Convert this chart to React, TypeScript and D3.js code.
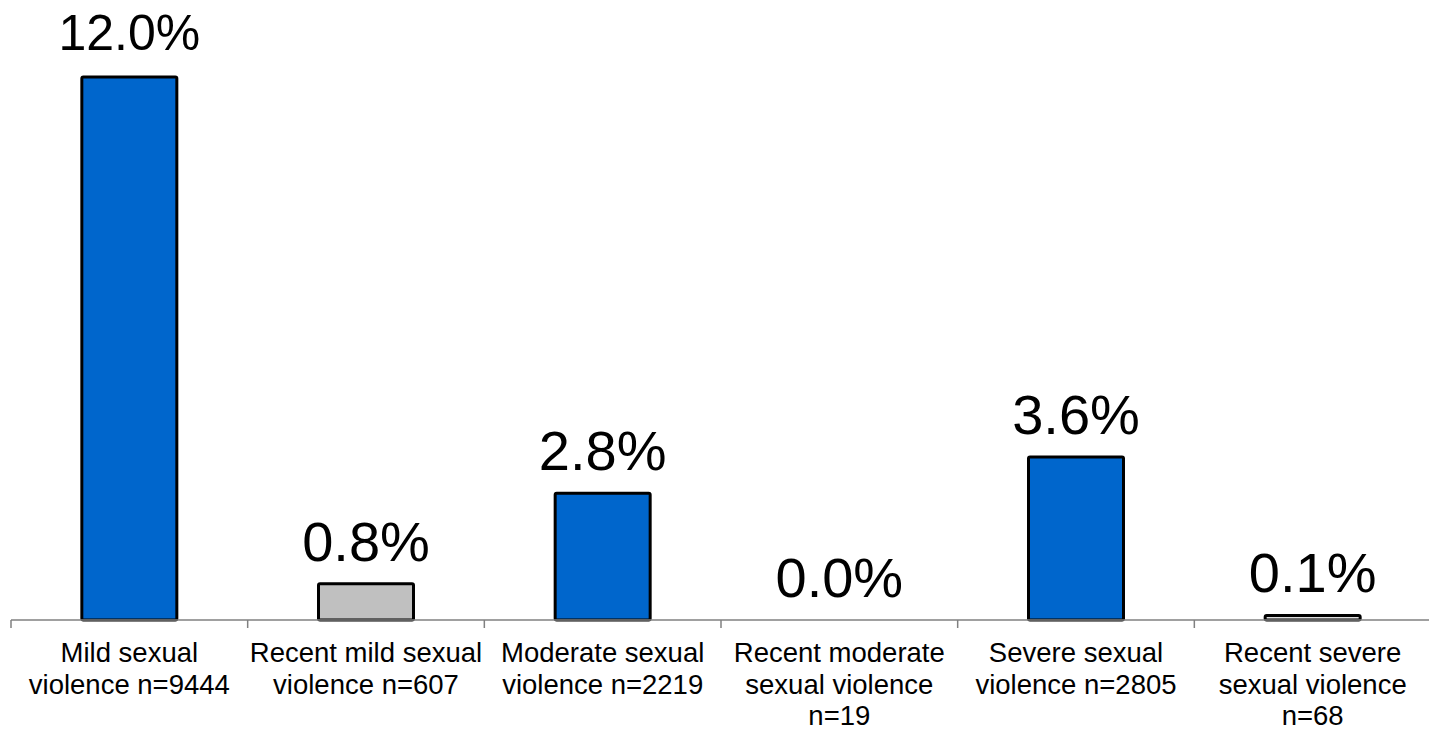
import React from "react";
import * as d3 from "d3";

const categories: string[][] = [
  ["Mild sexual", "violence n=9444"],
  ["Recent mild sexual", "violence n=607"],
  ["Moderate sexual", "violence n=2219"],
  ["Recent moderate", "sexual violence", "n=19"],
  ["Severe sexual", "violence n=2805"],
  ["Recent severe", "sexual violence", "n=68"],
];
const values: number[] = [12.0, 0.8, 2.8, 0.0, 3.6, 0.1];
const valueLabels: string[] = ["12.0%", "0.8%", "2.8%", "0.0%", "3.6%", "0.1%"];
const barColors: string[] = ["#0066CC", "#C0C0C0", "#0066CC", "#C0C0C0", "#0066CC", "#E0E0E0"];

const W = 1429;
const H = 730;
const left = 11;
const right = 1431;
const baseY = 620;

export default function App() {
  const x = d3
    .scaleBand<number>()
    .domain(values.map((_, i) => i))
    .range([left, right])
    .paddingInner(0)
    .paddingOuter(0);
  const y = d3.scaleLinear().domain([0, 12]).range([baseY, 77]);
  const bw = 95;
  const ticks = d3.range(values.length + 1).map((i) => left + i * x.step());

  return (
    <svg
      width={W}
      height={H}
      style={{ position: "absolute", left: 0, top: 0, background: "#fff" }}
    >
      {values.map((v, i) => {
        const cx = (x(i) as number) + x.bandwidth() / 2;
        const top = y(v);
        const h = baseY - top;
        return (
          <g key={i}>
            {h > 0 && (
              <rect
                x={cx - bw / 2}
                y={top}
                width={bw}
                height={h}
                rx={1.5}
                fill={barColors[i]}
                stroke="#000"
                strokeWidth={3}
              />
            )}
            <text
              x={cx}
              y={top - (i === 0 ? 27 : 23)}
              textAnchor="middle"
              fontFamily="'Liberation Sans', Arial, sans-serif"
              fontSize={i === 0 ? 50 : 56}
              fill="#000"
            >
              {valueLabels[i]}
            </text>
            {categories[i].map((line, j) => (
              <text
                key={j}
                x={cx}
                y={662 + j * 31.5}
                textAnchor="middle"
                fontFamily="'Liberation Sans', Arial, sans-serif"
                fontSize={27.5}
                fill="#000"
              >
                {line}
              </text>
            ))}
          </g>
        );
      })}
      <line x1={left} x2={right} y1={baseY} y2={baseY} stroke="#808080" strokeWidth={1.5} />
      {ticks.map((t, i) => (
        <line key={i} x1={t} x2={t} y1={baseY} y2={baseY + 8} stroke="#808080" strokeWidth={1.5} />
      ))}
    </svg>
  );
}
